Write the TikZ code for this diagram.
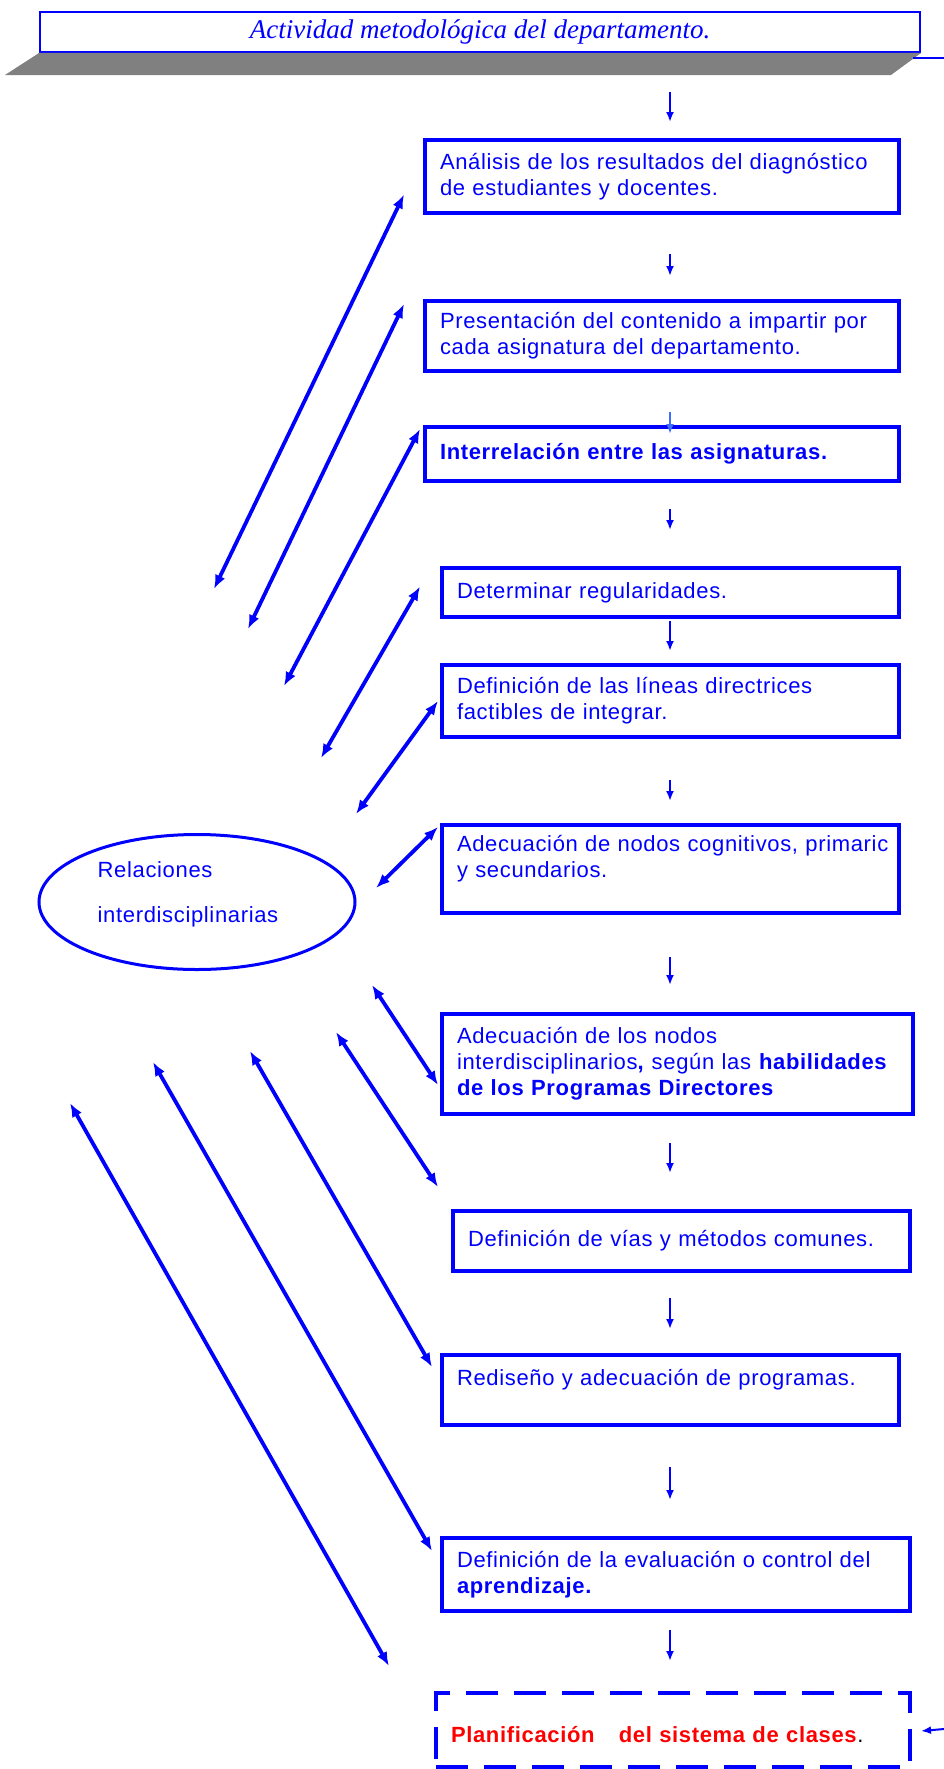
\documentclass[tikz,border=0pt]{standalone}
\usepackage{fontspec}
\setmainfont{Liberation Sans}[LetterSpace=3]
\newfontfamily\fuentetitulo{Liberation Serif}
\usetikzlibrary{arrows.meta,shapes.geometric}

\definecolor{azul}{RGB}{0,0,255}
\definecolor{azulclaro}{RGB}{60,110,255}
\definecolor{rojo}{RGB}{255,0,0}
\definecolor{sombra}{RGB}{128,128,128}

\tikzset{
  paso/.style={draw=azul, line width=4pt, text=azul, anchor=north west,
    font=\fontsize{22}{26}\selectfont, align=left, inner xsep=15pt, inner ysep=2pt},
  flecha/.style={draw=azul, line width=2pt, -{Latex[length=10pt,width=8pt]}},
  doble/.style={draw=azul, line width=3.8pt, {Latex[length=14pt,width=11pt]}-{Latex[length=14pt,width=11pt]}}
}

\begin{document}
\begin{tikzpicture}[x=1pt, y=-1pt]
        \useasboundingbox (0,0) rectangle (944,1769);

        % titulo con su sombra
        \node[draw=azul, line width=2pt, anchor=north west, minimum width=880, minimum height=40, text=azul,
              font=\fuentetitulo\itshape\fontsize{27}{30}\selectfont] (tit) at (39,11) {Actividad metodológica del departamento.};
        \fill[sombra] (tit.south west) -- (tit.south east) -- ++(-30,22) -- ([shift={(-34,22)}]tit.south west) -- cycle;
        \coordinate (bordeA) at (944,58);
        \draw[azul, line width=2pt] ([xshift=-31pt]bordeA) -- (bordeA);

        % pasos
        \node[paso, minimum width=474, minimum height=73, text width=444] (b1) at (423,138)
          {Análisis de los resultados del diagnóstico\\de estudiantes y docentes.};
        \node[paso, minimum width=474, minimum height=70, text width=444] (b2) at (423,299)
          {Presentación del contenido a impartir por\\cada asignatura del departamento.};
        \node[paso, minimum width=474, minimum height=54, text width=444] (b3) at (423,425)
          {\textbf{Interrelación entre las asignaturas.}};
        \node[paso, minimum width=457, minimum height=49, text width=427] (b4) at (440,566)
          {Determinar regularidades.};
        \node[paso, minimum width=457, minimum height=72, text width=427] (b5) at (440,663)
          {Definición de las líneas directrices\\factibles de integrar.};
        \node[paso, minimum width=457, minimum height=88, text width=427] (b6) at (440,823)
          {\mbox{Adecuación de nodos cognitivos, primaric}\\y secundarios.\\\mbox{}};
        \node[paso, minimum width=471, minimum height=100, text width=441] (b7) at (440,1012)
          {Adecuación de los nodos\\interdisciplinarios\textbf{,} según las \textbf{habilidades}\\\textbf{de los Programas Directores}};
        \node[paso, minimum width=457, minimum height=60, text width=427] (b8) at (451,1209)
          {Definición de vías y métodos comunes.};
        \node[paso, minimum width=457, minimum height=70, text width=427] (b9) at (440,1353)
          {Rediseño y adecuación de programas.\\\mbox{}};
        \node[paso, minimum width=468, minimum height=73, text width=438] (b10) at (440,1536)
          {Definición de la evaluación o control del\\\textbf{aprendizaje.}};
        \node[paso, dash pattern=on 32pt off 16pt, minimum width=474, minimum height=74, text width=444] (b11) at (434,1691)
          {\mbox{}\\\textcolor{rojo}{\textbf{Planificación\hspace{1.1em}del sistema de clases}}\textcolor{black}{.}};

        \node[ellipse, draw=azul, line width=3pt, minimum width=316, minimum height=135] (rel) at (197,902) {};
        \node[text=azul, font=\fontsize{22}{26}\selectfont, align=left] (reltxt) at ([shift={(-9,-8)}]rel.center)
          {Relaciones\\[19pt]interdisciplinarias};

        % flechas verticales
        \coordinate (eje) at (670,0);
        \foreach \de/\a/\ini/\fin in {tit/b1/39pt/16pt, b1/b2/39pt/23pt, b3/b4/26pt/36pt, b4/b5/2pt/12pt,
                                      b5/b6/41pt/22pt, b6/b7/42pt/27pt, b7/b8/27pt/36pt, b8/b9/25pt/24pt,
                                      b9/b10/40pt/36pt, b10/b11/17pt/30pt}
          \draw[flecha, shorten <=\ini, shorten >=\fin] (\de.south -| eje) -- (\a.north -| eje);
        \draw[flecha, draw=azulclaro, shorten <=39pt, shorten >=-9pt] (b2.south -| eje) -- (b3.north -| eje);

        \coordinate (bordeB) at (944,1729);
        \draw[flecha] (bordeB) -- ([shift={(9,1)}]b11.east);

        % flechas hacia las relaciones
        \coordinate (r1) at (214,589);
        \coordinate (r2) at (248,629);
        \coordinate (r3) at (284,686);
        \coordinate (r4) at (321,758);
        \coordinate (r5) at (356,814);
        \coordinate (r6) at (376,888);
        \coordinate (s1) at (372,985);
        \coordinate (s2) at (336,1032);
        \coordinate (s3) at (250,1051);
        \coordinate (s4) at (153,1062);
        \coordinate (s5) at (70,1103);

        \draw[doble] (r1) -- ([shift={(-19,18)}]b1.west);
        \draw[doble] (r2) -- ([shift={(-19,-32)}]b2.west);
        \draw[doble] (r3) -- ([shift={(-3,4)}]b3.north west);
        \draw[doble] (r4) -- ([shift={(-20,-6)}]b4.west);
        \draw[doble] (r5) -- ([shift={(-2,0)}]b5.west);
        \draw[doble] (r6) -- ([shift={(-2,4)}]b6.north west);
        \draw[doble] (s1) -- ([shift={(-2,21)}]b7.west);
        \draw[doble] (s2) -- ([shift={(-13,-22)}]b8.north west);
        \draw[doble] (s3) -- ([shift={(-8,14)}]b9.north west);
        \draw[doble] (s4) -- ([shift={(-8,15)}]b10.north west);
        \draw[doble] (s5) -- ([shift={(-45,-25)}]b11.north west);
      \end{tikzpicture}
\end{document}
